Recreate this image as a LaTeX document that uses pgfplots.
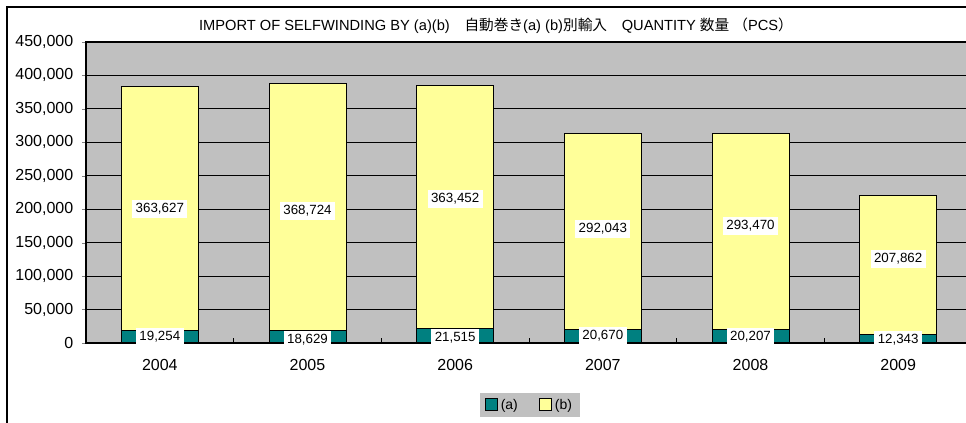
\documentclass[border=0pt]{standalone}
\usepackage{fontspec}
\setmainfont{Liberation Sans}
\newfontfamily\cjk{Noto Sans CJK JP}
\usepackage{pgfplots}
\pgfplotsset{compat=1.18}
\definecolor{barA}{RGB}{0,128,128}
\definecolor{barB}{RGB}{255,255,153}
\definecolor{plotbg}{RGB}{192,192,192}

\pgfplotsset{
  frame/.style={
    at={(64.5pt,60pt)}, anchor=south west,
    scale only axis, width=664.5pt, height=225.75pt,
    xmin=-0.5, xmax=5.5, ymin=0, ymax=450000,
    /pgf/number format/.cd, fixed, precision=0, 1000 sep={,}, assume math mode=true, /pgfplots/.cd,
  },
}

\begin{document}
\begin{tikzpicture}
\path[use as bounding box, clip] (0,0) rectangle (724.5pt,317.25pt);
\fill[white] (0,0) rectangle (724.5pt,317.25pt);
\draw[line width=1pt] (5.25pt,-5pt) -- (5.25pt,312pt) -- (740pt,312pt);

\node[font=\fontsize{11}{13}\selectfont] at (372pt,297.75pt)
  {IMPORT OF SELFWINDING BY (a)(b)\quad{\cjk 自動巻き}(a) (b){\cjk 別輸入}\quad QUANTITY {\cjk 数量} {\cjk （}PCS{\cjk ）}};

\begin{axis}[
  frame,
  ybar stacked, bar width=57.75pt,
  axis background/.style={fill=plotbg},
  axis line style={black, line width=0.9pt},
  ytick={0,50000,...,450000},
  ymajorgrids, grid style={black, line width=0.75pt},
  scaled y ticks=false,
  ytick pos=left, ytick align=outside, major tick length=3pt,
  yticklabel style={font=\fontsize{12}{14}\selectfont, xshift=-3pt},
  xtick={0,1,2,3,4,5},
  xticklabels={2004,2005,2006,2007,2008,2009},
  xtick pos=bottom,
  major x tick style={draw=none},
  xticklabel style={font=\fontsize{12}{14}\selectfont, yshift=-9pt},
  extra x ticks={0.5,1.5,2.5,3.5,4.5},
  extra x tick labels={},
  extra x tick style={major x tick style={draw=black, line width=0.75pt}, tick align=inside, major tick length=4pt, grid=none},
  legend style={at={(0.501,-0.206)}, anchor=center, fill=plotbg, draw=none,
    legend columns=2, font=\fontsize{10.5}{12}\selectfont, inner xsep=4pt, inner ysep=2.5pt,
    /tikz/every even column/.append style={column sep=14pt},
    nodes={inner xsep=2pt}},
]
\addplot[fill=barA, draw=black, line width=0.75pt,
  legend image code/.code={\draw[fill=barA,draw=black,line width=0.75pt] (0pt,-4.5pt) rectangle (9pt,4.5pt);}]
  coordinates {(0,19254) (1,18629) (2,21515) (3,20670) (4,20207) (5,12343)};
\addlegendentry{(a)}
\addplot[fill=barB, draw=black, line width=0.75pt,
  legend image code/.code={\draw[fill=barB,draw=black,line width=0.75pt] (0pt,-4.5pt) rectangle (9pt,4.5pt);}]
  coordinates {(0,363627) (1,368724) (2,363452) (3,292043) (4,293470) (5,207862)};
\addlegendentry{(b)}
\end{axis}

\begin{axis}[
  frame, hide axis,
  nodes near coords, point meta=explicit,
  nodes near coords align={center},
  every node near coord/.append style={fill=white, inner sep=2.5pt, font=\fontsize{10}{12}\selectfont, text=black},
]
\addplot[draw=none, mark=none] coordinates {
  (0,9000) [19254] (1,5000) [18629] (2,8000) [21515]
  (3,11000) [20670] (4,9500) [20207] (5,4500) [12343]};
\addplot[draw=none, mark=none] coordinates {
  (0,200332) [363627] (1,197342) [368724] (2,215282) [363452]
  (3,170432) [292043] (4,174917) [293470] (5,125581) [207862]};
\end{axis}
\end{tikzpicture}
\end{document}
